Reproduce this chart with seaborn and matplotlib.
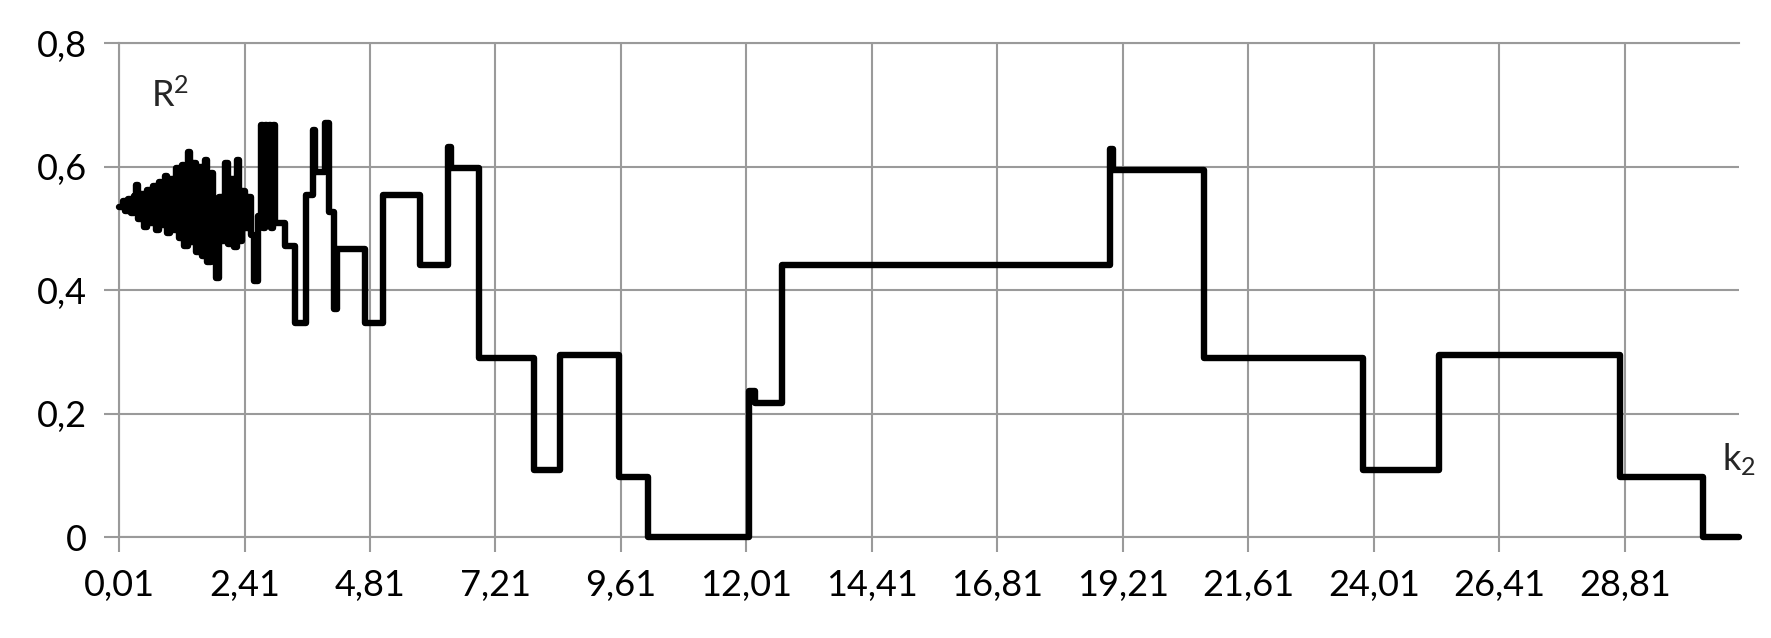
import pandas as pd
import matplotlib
import matplotlib.pyplot as plt
import seaborn as sns

matplotlib.use('Agg')

# Step function R^2(k2): each level holds from its k2 start up to the next start
k2_start = [0.01, 0.08, 0.13, 0.19, 0.24, 0.30, 0.34, 0.38, 0.44, 0.49,
            0.55, 0.60, 0.66, 0.71, 0.77, 0.82, 0.88, 0.93, 0.99, 1.04,
            1.10, 1.15, 1.21, 1.26, 1.32, 1.37, 1.43, 1.48, 1.54, 1.59,
            1.65, 1.70, 1.76, 1.81, 1.87, 1.93, 1.98, 2.04, 2.09, 2.15,
            2.20, 2.26, 2.31, 2.37, 2.42, 2.48, 2.53, 2.60, 2.66, 2.72,
            2.76, 2.80, 2.84, 2.88, 2.92, 2.96, 3.00, 3.19, 3.38, 3.58,
            3.72, 3.76, 3.95, 4.02, 4.12, 4.17, 4.71, 5.06, 5.77, 6.31,
            6.36, 6.90, 7.95, 8.45, 9.58, 10.13, 12.05, 12.18, 12.68, 18.96,
            19.01, 20.75, 23.80, 25.26, 28.72, 30.31]
r2_level = [0.535, 0.545, 0.528, 0.548, 0.525, 0.552, 0.570, 0.515, 0.556, 0.503,
            0.562, 0.508, 0.568, 0.498, 0.575, 0.505, 0.584, 0.492, 0.580, 0.498,
            0.598, 0.485, 0.602, 0.472, 0.624, 0.478, 0.605, 0.462, 0.600, 0.455,
            0.611, 0.445, 0.590, 0.500, 0.420, 0.550, 0.480, 0.605, 0.475, 0.580,
            0.470, 0.611, 0.480, 0.560, 0.500, 0.550, 0.490, 0.415, 0.520, 0.667,
            0.500, 0.667, 0.520, 0.667, 0.500, 0.667, 0.509, 0.471, 0.347, 0.554,
            0.659, 0.592, 0.670, 0.527, 0.369, 0.466, 0.347, 0.554, 0.441, 0.632,
            0.597, 0.290, 0.109, 0.295, 0.098, 0.000, 0.236, 0.217, 0.441, 0.628,
            0.595, 0.290, 0.109, 0.295, 0.098, 0.000]
k2_end = 31.0

x_tick_labels = ['0,01', '2,41', '4,81', '7,21', '9,61', '12,01', '14,41',
                 '16,81', '19,21', '21,61', '24,01', '26,41', '28,81']
y_tick_labels = ['0', '0,2', '0,4', '0,6', '0,8']

sns.set_theme(style='white')
plt.rcParams['font.family'] = ['Lato', 'DejaVu Sans']
plt.rcParams['mathtext.default'] = 'regular'

grid_color = '#9a9a9a'

df = pd.DataFrame({'k2': k2_start + [k2_end], 'r2': r2_level + [r2_level[-1]]})

fig = plt.figure(figsize=(17.71, 6.38), dpi=100)
ax = fig.add_axes([0.0672, 0.1578, 0.9150, 0.7748])

sns.lineplot(data=df, x='k2', y='r2', drawstyle='steps-post', color='black',
             lw=4.6, ax=ax, clip_on=False, solid_joinstyle='round',
             solid_capstyle='round', zorder=5)

x_ticks = [float(s.replace(',', '.')) for s in x_tick_labels]
y_ticks = [float(s.replace(',', '.')) for s in y_tick_labels]
ax.set_xticks(x_ticks)
ax.set_xticklabels(x_tick_labels)
ax.set_yticks(y_ticks)
ax.set_yticklabels(y_tick_labels)
ax.set_xlim(0.01, k2_end)
ax.set_ylim(0, 0.8)

ax.grid(True, color=grid_color, lw=1.5)
ax.tick_params(axis='both', which='major', length=11, width=1.5, color=grid_color,
               labelsize=26, labelcolor='black', direction='out')
ax.tick_params(axis='x', pad=12, bottom=True)
ax.tick_params(axis='y', pad=12, left=True)

for side in ['left', 'bottom', 'top']:
    ax.spines[side].set_color(grid_color)
    ax.spines[side].set_linewidth(1.5)
ax.spines['right'].set_visible(False)

ax.set_xlabel('')
ax.set_ylabel('')

ax.text(0.62, 0.697, 'R$^2$', fontsize=26, ha='left', va='baseline')
ax.text(30.67, 0.109, 'k$_2$', fontsize=26, ha='left', va='baseline', clip_on=False)

plt.savefig('out.png', dpi=100)
plt.close()
